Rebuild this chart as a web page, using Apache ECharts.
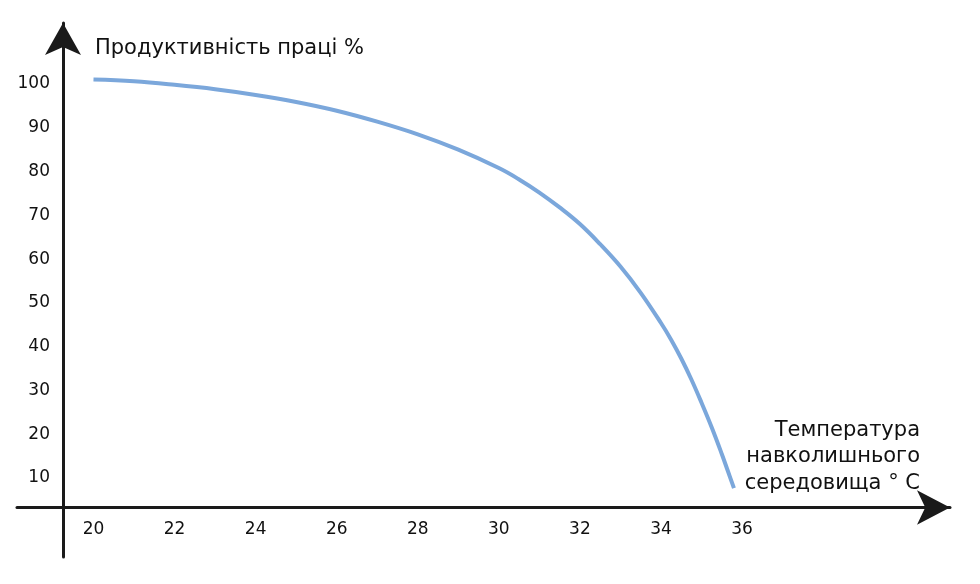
<!DOCTYPE html>
<html>
<head>
<meta charset="utf-8">
<script src="https://cdn.jsdelivr.net/npm/echarts@6/dist/echarts.min.js"></script>
<style>html,body{margin:0;padding:0;background:#fff}#c{width:980px;height:584px}</style>
</head>
<body>
<div id="c"></div>
<script>
const temperature = [20, 21, 22, 23, 24, 25, 26, 27, 28, 29, 30, 30.5, 31, 31.5, 32, 32.5, 33, 33.5, 34, 34.25, 34.5, 34.75, 35, 35.25, 35.5, 35.65, 35.8];
const productivity = [101, 100.6, 99.8, 98.8, 97.5, 95.9, 93.9, 91.4, 88.5, 85.0, 80.8, 78.2, 75.2, 71.8, 68.0, 63.4, 58.3, 52.3, 45.4, 41.6, 37.3, 32.5, 27.2, 21.6, 15.5, 11.6, 7.7];
const xTicks = [20, 22, 24, 26, 28, 30, 32, 34, 36];
const yTicks = [10, 20, 30, 40, 50, 60, 70, 80, 90, 100];
const yTitle = 'Продуктивність праці %';
const xTitle = 'Температура\nнавколишнього\nсередовища ° С';

const font = 'DejaVu Sans';
const axisColor = '#1a1a1a';
const chart = echarts.init(document.getElementById('c'), null, {renderer: 'canvas'});
chart.setOption({
  animation: false,
  backgroundColor: '#fff',
  title: [
    {text: yTitle, left: 90, top: 33, textStyle: {fontFamily: font, fontSize: 21, fontWeight: 'normal', color: '#111'}},
    {text: xTitle, left: 915, top: 412, textAlign: 'right',
     textStyle: {fontFamily: font, fontSize: 21, fontWeight: 'normal', color: '#111', lineHeight: 26.5}}
  ],
  grid: {left: 17, right: 30, top: 23, bottom: 27, containLabel: false},
  xAxis: {
    type: 'value', min: 18.113, max: 41.13, offset: -49.5, position: 'bottom',
    axisLine: {show: true, symbol: ['none', 'arrow'], symbolSize: [26, 33], lineStyle: {color: axisColor, width: 3}},
    axisTick: {show: false}, splitLine: {show: false},
    axisLabel: {customValues: xTicks, margin: 14, fontFamily: font, fontSize: 17, color: '#111'}
  },
  yAxis: {
    type: 'value', min: -8.04, max: 113.93, offset: -46, position: 'left',
    axisLine: {show: true, symbol: ['none', 'arrow'], symbolSize: [27, 32], lineStyle: {color: axisColor, width: 3}},
    axisTick: {show: false}, splitLine: {show: false},
    axisLabel: {customValues: yTicks, margin: 13, padding: [4, 0, 0, 0], fontFamily: font, fontSize: 17, color: '#111'}
  },
  series: [{
    type: 'line', smooth: 0.4, showSymbol: false, clip: false,
    data: temperature.map((t, i) => [t, productivity[i]]),
    lineStyle: {color: '#7ba7db', width: 4, cap: 'butt'}
  }]
});
</script>
</body>
</html>
